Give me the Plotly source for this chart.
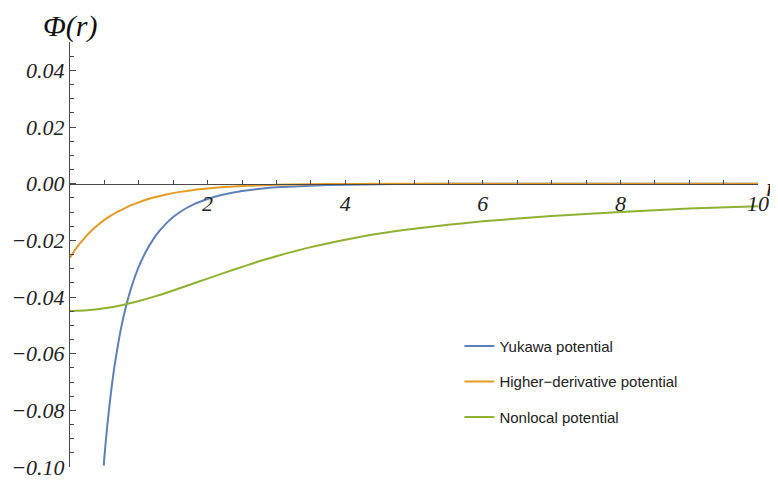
import plotly.graph_objects as go

# ---- data ----
r_yukawa = [0.49, 0.5, 0.52, 0.55, 0.58, 0.6, 0.63, 0.65, 0.7, 0.75, 0.8,
            0.85, 0.9, 0.95, 1.0, 1.1, 1.2, 1.3, 1.4, 1.5, 1.6, 1.7, 1.8,
            1.9, 2.0, 2.2, 2.5, 2.8, 3.0, 3.5, 4.0, 4.5, 5.0, 6.0, 8.0, 10.0]
phi_yukawa = [-0.0995, -0.0965, -0.0909, -0.0835, -0.0769, -0.0728, -0.0673,
              -0.0639, -0.0565, -0.0501, -0.0447, -0.0400, -0.0360, -0.0324,
              -0.0293, -0.0241, -0.0200, -0.0167, -0.0140, -0.0118, -0.0100,
              -0.0085, -0.0073, -0.0063, -0.0054, -0.0040, -0.0026, -0.0017,
              -0.0013, -0.0007, -0.00036, -0.0002, -0.00011, -0.00003,
              -0.000003, 0.0]

r_higher = [0.0, 0.1, 0.2, 0.3, 0.4, 0.5, 0.6, 0.7, 0.8, 0.9, 1.0, 1.2, 1.4,
            1.6, 1.8, 2.0, 2.3, 2.6, 3.0, 3.5, 4.0, 5.0, 6.0, 8.0, 10.0]
phi_higher = [-0.0261, -0.0225, -0.0195, -0.0169, -0.0147, -0.0128, -0.0112,
              -0.0098, -0.0086, -0.0075, -0.0066, -0.0050, -0.0038, -0.0029,
              -0.0022, -0.0017, -0.0011, -0.0007, -0.0004, -0.0002, -0.0001,
              -0.00003, -0.00001, 0.0, 0.0]

r_nonlocal = [0.0, 0.25, 0.5, 0.75, 1.0, 1.25, 1.5, 1.75, 2.0, 2.25, 2.5,
              2.75, 3.0, 3.5, 4.0, 4.5, 5.0, 5.5, 6.0, 7.0, 8.0, 9.0, 10.0]
phi_nonlocal = [-0.0449, -0.0447, -0.0440, -0.0429, -0.0414, -0.0397,
                -0.0377, -0.0356, -0.0335, -0.0314, -0.0294, -0.0274,
                -0.0256, -0.0224, -0.0198, -0.0176, -0.0159, -0.0145,
                -0.0133, -0.0114, -0.0100, -0.0088, -0.0080]

series_names = ["Yukawa potential", "Higher\u2212derivative potential",
                "Nonlocal potential"]
series_colors = ["#5E81B5", "#E19C24", "#8FB032"]

x_tick_vals = [2, 4, 6, 8, 10]
x_tick_text = ["2", "4", "6", "8", "10"]
y_tick_vals = [0.04, 0.02, 0.0, -0.02, -0.04, -0.06, -0.08, -0.10]
y_tick_text = ["0.04", "0.02", "0.00", "\u22120.02", "\u22120.04",
               "\u22120.06", "\u22120.08", "\u22120.10"]

# ---- figure ----
serif = "Liberation Serif"
fig = go.Figure()
for name, xs, ys, col in zip(series_names,
                             [r_yukawa, r_higher, r_nonlocal],
                             [phi_yukawa, phi_higher, phi_nonlocal],
                             series_colors):
    fig.add_trace(go.Scatter(x=xs, y=ys, mode="lines", name=name,
                             legendgroup=name,
                             line=dict(color=col, width=2, shape="spline",
                                       smoothing=0.6)))

axis_col = "#4a4a4a"
# page body has an 8px margin, so the figure is sized to the visible area
fig.update_layout(
    width=770, height=476,
    margin=dict(l=62, r=20, t=34, b=17),
    paper_bgcolor="white", plot_bgcolor="white",
    showlegend=True,
    legend=dict(x=0.566, y=0.323, xanchor="left", yanchor="top",
                font=dict(family="Liberation Sans", size=15, color="#222"),
                tracegroupgap=13, traceorder="grouped",
                bgcolor="rgba(0,0,0,0)"),
    xaxis=dict(range=[0, 10], anchor="free", position=0.6667,
               automargin=False,
               showline=True, linecolor=axis_col, linewidth=1,
               showgrid=False, zeroline=False,
               tickmode="array", tickvals=x_tick_vals, ticktext=x_tick_text,
               ticks="inside", ticklen=4, tickcolor=axis_col,
               minor=dict(tickmode="linear", tick0=0, dtick=0.5,
                          ticks="inside", ticklen=4, tickcolor=axis_col),
               tickfont=dict(family=serif, size=22, color="#222",
                             style="italic"),
               ticklabelstandoff=0),
    yaxis=dict(range=[-0.1, 0.05], showline=True, linecolor=axis_col,
               automargin=False,
               linewidth=1, showgrid=False, zeroline=False,
               tickmode="array", tickvals=y_tick_vals, ticktext=y_tick_text,
               ticks="inside", ticklen=6, tickcolor=axis_col,
               minor=dict(tickmode="linear", tick0=0, dtick=0.005,
                          ticks="inside", ticklen=4, tickcolor=axis_col),
               tickfont=dict(family=serif, size=22, color="#222",
                             style="italic")),
)

fig.add_annotation(text="\u03a6(r)", xref="paper", yref="paper",
                   x=0.0, y=1.0, xanchor="center", yanchor="top",
                   yshift=34, showarrow=False, borderpad=0,
                   font=dict(family=serif, size=30, color="#111",
                             style="italic"))
fig.add_annotation(text="r", xref="paper", yref="paper",
                   x=1.0, y=0.6667, xanchor="right", yanchor="middle",
                   xshift=20, yshift=-4, showarrow=False, borderpad=0,
                   font=dict(family=serif, size=26, color="#222",
                             style="italic"))

fig.write_html("out.html")
